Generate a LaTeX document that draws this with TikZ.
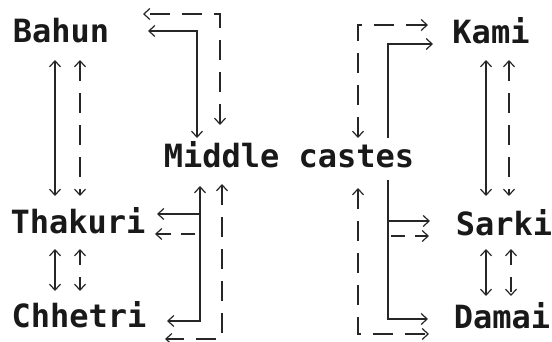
\documentclass[tikz,border=0pt]{standalone}
\usepackage{fontspec}
\setmonofont{DejaVu Sans Mono}
\usetikzlibrary{arrows.meta}
\tikzset{
  caste/.style={font=\ttfamily\bfseries\fontsize{32}{32}\selectfont, text=black!90, inner sep=0pt, anchor=center},
  link/.style={line width=1.2pt, draw=black!85, arrows={Straight Barb[length=6pt,width=11pt]-Straight Barb[length=6pt,width=11pt]}},
  oneway/.style={line width=1.2pt, draw=black!85, -{Straight Barb[length=6pt,width=11pt]}},
  dsh/.style={dash pattern=on 20pt off 12pt},
}
\begin{document}
\begin{tikzpicture}[x=1pt,y=-1pt]
\useasboundingbox (0,0) rectangle (552,342);

% caste labels
\node[caste] (bahun)   at (61,31)   {Bahun};
\node[caste] (thakuri) at (78,221)  {Thakuri};
\node[caste] (chhetri) at (79,315)  {Chhetri};
\node[caste] (middle)  at (289,155) {Middle castes};
\node[caste] (kami)    at (491,31)  {Kami};
\node[caste] (sarki)   at (504,223) {Sarki};
\node[caste] (damai)   at (502,316) {Damai};

% left column: Bahun <-> Thakuri <-> Chhetri
\coordinate (lA1) at (55,60);  \coordinate (lA2) at (55,196);
\coordinate (lB1) at (80,60);  \coordinate (lB2) at (80,196);
\coordinate (lC1) at (55,249); \coordinate (lC2) at (55,291);
\coordinate (lD1) at (80,249); \coordinate (lD2) at (80,291);
\draw[link] (lA1) -- (lA2);
\draw[link,dsh] (lB1) -- (lB2);
\draw[link] (lC1) -- (lC2);
\draw[link,dash pattern=on 15pt off 12pt] (lD1) -- (lD2);

% right column: Kami <-> Sarki <-> Damai
\coordinate (rA1) at (486,60);  \coordinate (rA2) at (486,196);
\coordinate (rB1) at (509,60);  \coordinate (rB2) at (509,196);
\coordinate (rC1) at (486,249); \coordinate (rC2) at (486,296);
\coordinate (rD1) at (511,249); \coordinate (rD2) at (511,296);
\draw[link] (rA1) -- (rA2);
\draw[link,dsh] (rB1) -- (rB2);
\draw[link] (rC1) -- (rC2);
\draw[link,dash pattern=on 15pt off 12pt] (rD1) -- (rD2);

% Middle castes <-> Bahun
\coordinate (mb1) at (197,138); \coordinate (mb2) at (197,31); \coordinate (mb3) at (148,31);
\draw[link] (mb1) -- (mb2) -- (mb3);
\coordinate (mb4) at (220,125); \coordinate (mb5) at (220,14); \coordinate (mb6) at (143,14);
\draw[link,dsh] (mb4) -- (mb5) -- (mb6);

% Middle castes <-> Kami
\coordinate (mk1) at (358,138); \coordinate (mk2) at (358,25); \coordinate (mk3) at (428,25);
\draw[link,dsh] (mk1) -- (mk2) -- (mk3);
\coordinate (mk4) at (388,138); \coordinate (mk5) at (388,44); \coordinate (mk6) at (433,44);
\draw[oneway] (mk4) -- (mk5) -- (mk6);

% Middle castes <-> Thakuri, Chhetri
\coordinate (mt1) at (200,186); \coordinate (mt2) at (200,321); \coordinate (mt3) at (167,321);
\draw[link] (mt1) -- (mt2) -- (mt3);
\coordinate (mt4) at (200,214); \coordinate (mt5) at (157,214);
\draw[oneway] (mt4) -- (mt5);
\coordinate (mt6) at (195,234); \coordinate (mt7) at (155,234);
\draw[oneway,dash pattern=on 14pt off 10pt] (mt6) -- (mt7);
\coordinate (mt8) at (222,184); \coordinate (mt9) at (222,339); \coordinate (mt10) at (165,339);
\draw[link,dsh] (mt8) -- (mt9) -- (mt10);

% Middle castes <-> Sarki, Damai
\coordinate (ms1) at (358,188); \coordinate (ms2) at (358,334); \coordinate (ms3) at (429,334);
\draw[link,dsh] (ms1) -- (ms2) -- (ms3);
\coordinate (ms4) at (388,180); \coordinate (ms5) at (388,319); \coordinate (ms6) at (428,319);
\draw[oneway] (ms4) -- (ms5) -- (ms6);
\coordinate (ms7) at (388,221); \coordinate (ms8) at (430,221);
\draw[oneway] (ms7) -- (ms8);
\coordinate (ms9) at (391,236); \coordinate (ms10) at (429,236);
\draw[oneway,dash pattern=on 14pt off 10pt] (ms9) -- (ms10);
\end{tikzpicture}
\end{document}
